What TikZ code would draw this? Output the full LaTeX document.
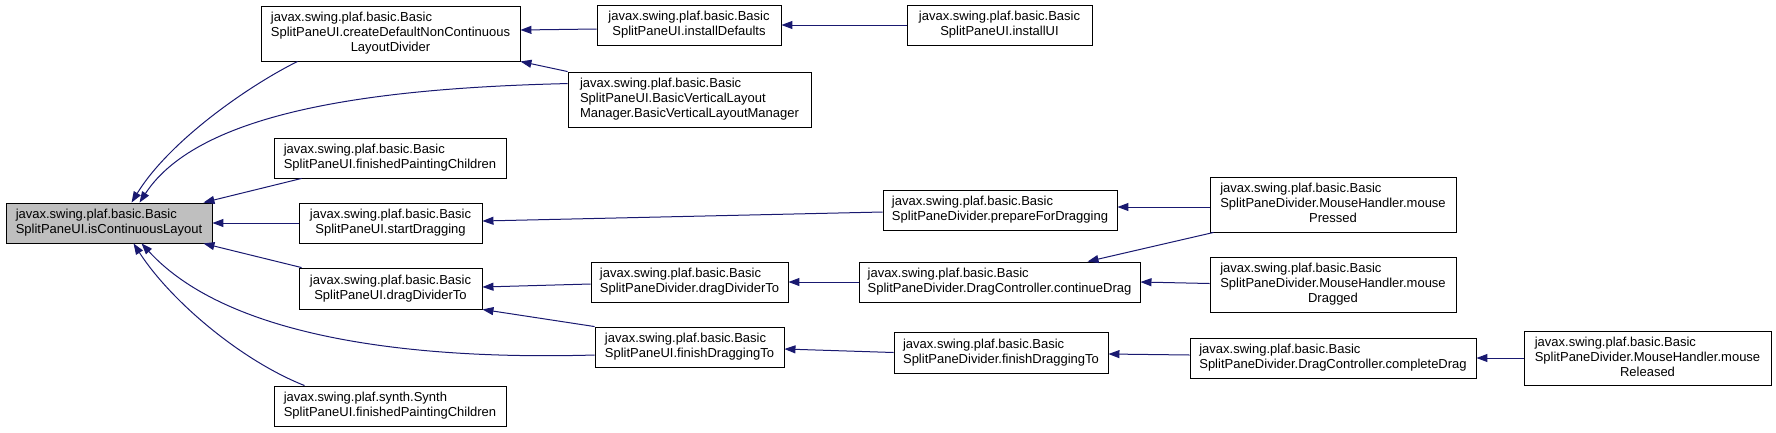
\documentclass[tikz,border=0pt]{standalone}
\usepackage{fontspec}
\setmainfont{Liberation Sans}
\usetikzlibrary{arrows.meta}
\definecolor{edgeblue}{HTML}{191970}
\definecolor{boxgray}{HTML}{BFBFBF}
\newcommand{\twol}[2]{\begin{tabular}{@{}l@{}}#1\\\multicolumn{1}{@{}c@{}}{#2}\end{tabular}}
\newcommand{\threel}[3]{\begin{tabular}{@{}l@{}}#1\\#2\\\multicolumn{1}{@{}c@{}}{#3}\end{tabular}}
\begin{document}
\begin{tikzpicture}[x=1pt,y=-1pt,
  fn/.style={draw=black, line width=0.9pt, fill=white, inner sep=0pt, font=\fontsize{13}{15}\selectfont},
  cur/.style={fn, fill=boxgray},
  call/.style={draw=edgeblue, line width=1pt, -{Triangle[length=11pt,width=8pt]}}
]
\useasboundingbox (0,0) rectangle (1776,432);

\node[cur, minimum width=206pt, minimum height=40pt] (isC) at (109,223) {\twol{javax.swing.plaf.basic.Basic}{SplitPaneUI.isContinuousLayout}};
\node[fn, minimum width=259pt, minimum height=55pt] (createDef) at (390.5,33.5) {\threel{javax.swing.plaf.basic.Basic}{SplitPaneUI.createDefaultNonContinuous}{LayoutDivider}};
\node[fn, minimum width=184pt, minimum height=40pt] (instDef) at (689,25) {\twol{javax.swing.plaf.basic.Basic}{SplitPaneUI.installDefaults}};
\node[fn, minimum width=185pt, minimum height=40pt] (instUI) at (999.5,25) {\twol{javax.swing.plaf.basic.Basic}{SplitPaneUI.installUI}};
\node[fn, minimum width=243pt, minimum height=55pt] (bvlm) at (689.5,99.5) {\threel{javax.swing.plaf.basic.Basic}{SplitPaneUI.BasicVerticalLayout}{Manager.BasicVerticalLayoutManager}};
\node[fn, minimum width=232pt, minimum height=40pt] (finPaint) at (390,158) {\twol{javax.swing.plaf.basic.Basic}{SplitPaneUI.finishedPaintingChildren}};
\node[fn, minimum width=183pt, minimum height=40pt] (startDrag) at (390.5,223) {\twol{javax.swing.plaf.basic.Basic}{SplitPaneUI.startDragging}};
\node[fn, minimum width=234pt, minimum height=40pt] (prepDrag) at (1000,210) {\twol{javax.swing.plaf.basic.Basic}{SplitPaneDivider.prepareForDragging}};
\node[fn, minimum width=246pt, minimum height=55pt] (mPressed) at (1333,204.5) {\threel{javax.swing.plaf.basic.Basic}{SplitPaneDivider.MouseHandler.mouse}{Pressed}};
\node[fn, minimum width=183pt, minimum height=41pt] (dragUI) at (390.5,288.5) {\twol{javax.swing.plaf.basic.Basic}{SplitPaneUI.dragDividerTo}};
\node[fn, minimum width=197pt, minimum height=40pt] (dragDiv) at (689.5,282) {\twol{javax.swing.plaf.basic.Basic}{SplitPaneDivider.dragDividerTo}};
\node[fn, minimum width=281pt, minimum height=40pt] (contDrag) at (999.5,282) {\twol{javax.swing.plaf.basic.Basic}{SplitPaneDivider.DragController.continueDrag}};
\node[fn, minimum width=246pt, minimum height=55pt] (mDragged) at (1333,284.5) {\threel{javax.swing.plaf.basic.Basic}{SplitPaneDivider.MouseHandler.mouse}{Dragged}};
\node[fn, minimum width=189pt, minimum height=40pt] (finUI) at (689.5,347) {\twol{javax.swing.plaf.basic.Basic}{SplitPaneUI.finishDraggingTo}};
\node[fn, minimum width=214pt, minimum height=41pt] (finDiv) at (1001,352.5) {\twol{javax.swing.plaf.basic.Basic}{SplitPaneDivider.finishDraggingTo}};
\node[fn, minimum width=286pt, minimum height=40pt] (compDrag) at (1333,358) {\twol{javax.swing.plaf.basic.Basic}{SplitPaneDivider.DragController.completeDrag}};
\node[fn, minimum width=247pt, minimum height=54pt] (mReleased) at (1647.5,358) {\threel{javax.swing.plaf.basic.Basic}{SplitPaneDivider.MouseHandler.mouse}{Released}};
\node[fn, minimum width=232pt, minimum height=40pt] (synth) at (390,406) {\twol{javax.swing.plaf.synth.Synth}{SplitPaneUI.finishedPaintingChildren}};

% edges (caller -> callee)
\draw[call] ([xshift=37pt]createDef.south west) .. controls (250,85) and (170,140) .. ([xshift=126pt]isC.north west);
\draw[call] ([yshift=-12pt]bvlm.north west) .. controls (380,88) and (200,110) .. ([xshift=134pt]isC.north west);
\draw[call] (bvlm.north west) -- (createDef.south east);
\draw[call] ([yshift=-4pt]instDef.west) -- ([yshift=3.5pt]createDef.east);
\draw[call] (instUI.west) -- (instDef.east);
\draw[call] ([xshift=28pt]finPaint.south west) -- ([xshift=-9pt]isC.north east);
\draw[call] (startDrag.west) -- (isC.east);
\draw[call] ([yshift=-2pt]prepDrag.west) -- ([yshift=2pt]startDrag.east);
\draw[call] ([yshift=-2.5pt]mPressed.west) -- ([yshift=3pt]prepDrag.east);
\draw[call] ([xshift=4pt]mPressed.south west) -- ([xshift=229pt]contDrag.north west);
\draw[call] ([yshift=1pt]mDragged.west) -- (contDrag.east);
\draw[call] (contDrag.west) -- (dragDiv.east);
\draw[call] ([yshift=-2pt]dragDiv.west) -- ([yshift=1.5pt]dragUI.east);
\draw[call] ([xshift=3pt]dragUI.north west) -- ([xshift=-9pt]isC.south east);
\draw[call] (finUI.north west) -- (dragUI.south east);
\draw[call] ([yshift=-8pt]finUI.west) .. controls (420,360) and (230,340) .. ([xshift=136pt]isC.south west);
\draw[call] ([xshift=31pt]synth.north west) .. controls (240,360) and (170,300) .. ([xshift=128pt]isC.south west);
\draw[call] (finDiv.west) -- ([yshift=-2pt]finUI.east);
\draw[call] ([yshift=3pt]compDrag.west) -- ([yshift=-1.5pt]finDiv.east);
\draw[call] (mReleased.west) -- (compDrag.east);
\end{tikzpicture}
\end{document}
